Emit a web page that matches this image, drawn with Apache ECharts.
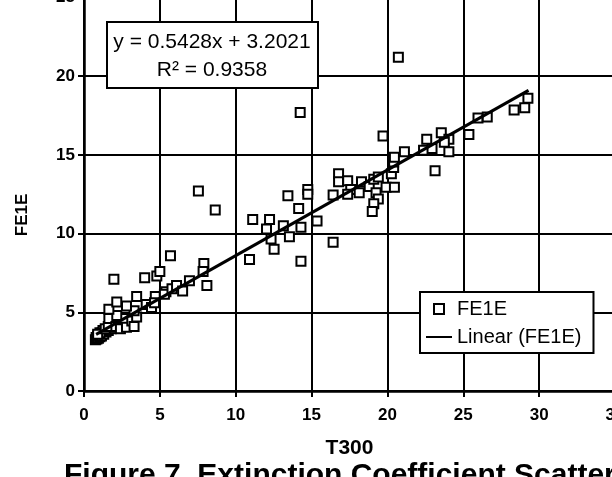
<!DOCTYPE html>
<html><head><meta charset="utf-8">
<script src="https://cdn.jsdelivr.net/npm/echarts@6/dist/echarts.min.js"></script>
<style>html,body{margin:0;padding:0;background:#fff}#c{width:612px;height:477px}</style>
</head><body><div id="c"></div>
<script>
// ---- data ----
const xTicks = [0, 5, 10, 15, 20, 25, 30, 35];
const yTicks = [0, 5, 10, 15, 20, 25];
const seriesName = 'FE1E';
const trendName = 'Linear (FE1E)';
const fe1eX = [
  0.75, 0.8, 0.85, 0.9, 0.95, 1.0, 1.05, 1.1, 1.15, 1.2, 1.3, 1.35, 1.45, 1.5, 1.6, 1.7, 1.8, 1.9, 2.0, 1.25, 1.05, 0.9, 1.4, 1.6,
  1.64, 2.1, 2.4, 2.6, 2.8, 3.15, 3.3, 3.47, 2.16, 3.3, 2.8, 1.64, 2.16, 3.47, 4.1, 4.45, 4.7, 4.65, 5.4, 5.3, 5.8, 6.1, 6.5, 6.95,
  4.8, 5.0, 4.0, 1.97, 5.7, 7.9, 7.85, 8.1, 7.54, 8.65,
  10.91, 11.12, 12.23, 12.03, 12.33, 12.53, 13.14, 13.44, 13.54, 14.15, 14.3, 15.36, 14.25, 14.3, 14.75, 14.75,
  16.42, 16.42, 16.78, 16.78, 17.38, 17.58, 17.38, 18.14, 18.29, 18.8, 19.1, 19.4, 19.25, 19.4, 19.1, 19.0,
  19.91, 20.46, 20.26, 20.41, 20.41, 20.46, 21.12, 19.71, 20.72, 22.38, 22.59, 22.94, 23.55, 24.05, 23.75, 24.05, 23.14,
  25.37, 25.97, 26.58, 28.35, 29.05, 29.26
];
const fe1eY = [
  3.25, 3.4, 3.3, 3.5, 3.35, 3.55, 3.45, 3.65, 3.5, 3.7, 3.6, 3.8, 3.75, 3.9, 3.85, 4.0, 3.95, 4.1, 4.05, 3.85, 3.7, 3.6, 3.95, 4.1,
  4.6, 4.1, 3.95, 4.6, 4.05, 4.45, 4.1, 4.7, 4.8, 5.1, 5.4, 5.2, 5.65, 6.0, 5.5, 5.3, 6.0, 5.6, 6.3, 6.15, 6.5, 6.7, 6.35, 7.0,
  7.3, 7.6, 7.2, 7.1, 8.6, 8.1, 7.6, 6.7, 12.7, 11.5,
  8.35, 10.9, 10.9, 10.3, 9.65, 9.0, 10.5, 12.4, 9.8, 11.6, 10.4, 10.8, 17.7, 8.25, 12.8, 12.5,
  9.45, 12.45, 13.8, 13.3, 13.35, 12.8, 12.5, 12.6, 13.3, 13.0, 13.45, 13.6, 12.6, 12.2, 11.9, 11.4,
  12.95, 12.95, 13.8, 14.2, 14.55, 14.85, 15.2, 16.2, 21.2, 15.3, 16.0, 15.4, 16.4, 16.0, 15.8, 15.2, 14.0,
  16.3, 17.35, 17.4, 17.85, 18.0, 18.6
];
const trendX = [0.8, 29.3];
const trendY = [3.6, 19.1];
const equationText = 'y = 0.5428x + 3.2021';
const r2Text = 'R\u00B2 = 0.9358';
const xTitle = 'T300';
const yTitle = 'FE1E';
const caption = 'Figure 7. Extinction Coefficient Scatter Plot';

// ---- chart ----
const FONT = '"Liberation Sans", Arial, Helvetica, sans-serif';
const chart = echarts.init(document.getElementById('c'), null, {renderer: 'canvas'});
const pts = fe1eX.map((x, i) => [x, fe1eY[i]]);
const trend = trendX.map((x, i) => [x, trendY[i]]);
chart.setOption({
  animation: false,
  backgroundColor: '#fff',
  grid: {left: 84, right: -3, top: -2.5, bottom: 86, containLabel: false, outerBoundsMode: 'none'},
  xAxis: {
    type: 'value', min: xTicks[0], max: xTicks[xTicks.length - 1], interval: xTicks[1] - xTicks[0],
    name: xTitle, nameLocation: 'middle', nameGap: 47,
    nameTextStyle: {fontFamily: FONT, fontWeight: 'bold', fontSize: 21, color: '#000'},
    axisLine: {lineStyle: {color: '#000', width: 2.5}},
    axisTick: {show: true, inside: false, length: 6, lineStyle: {color: '#000', width: 2}},
    axisLabel: {fontFamily: FONT, fontWeight: 'bold', fontSize: 17, color: '#000', margin: 16, hideOverlap: false},
    splitLine: {show: true, lineStyle: {color: '#000', width: 2}}
  },
  yAxis: {
    type: 'value', min: yTicks[0], max: yTicks[yTicks.length - 1], interval: yTicks[1] - yTicks[0],
    axisLine: {show: true, lineStyle: {color: '#000', width: 2.5}},
    axisTick: {show: true, inside: false, length: 6, lineStyle: {color: '#000', width: 2}},
    axisLabel: {fontFamily: FONT, fontWeight: 'bold', fontSize: 17, color: '#000', margin: 9},
    splitLine: {show: true, lineStyle: {color: '#000', width: 2}}
  },
  legend: {
    orient: 'vertical', left: 420, top: 292,
    backgroundColor: '#fff', borderColor: '#000', borderWidth: 2, borderRadius: 0,
    padding: [7, 12, 6, 5], itemGap: 8, itemWidth: 26, itemHeight: 10,
    textStyle: {fontFamily: FONT, fontSize: 20, color: '#000'},
    data: [
      {name: seriesName, icon: 'path://M0,0L10,0L10,10L0,10Z'},
      {name: trendName, itemStyle: {opacity: 0}}
    ]
  },
  series: [
    {
      name: seriesName, type: 'scatter', data: pts, symbol: 'rect', symbolSize: 9,
      itemStyle: {color: '#fff', borderColor: '#000', borderWidth: 2, opacity: 1},
      z: 3
    },
    {
      name: trendName, type: 'line', data: trend, symbol: 'none', showSymbol: false,
      lineStyle: {color: '#000', width: 3}, itemStyle: {color: '#000'}, z: 4
    }
  ],
  graphic: [
    {type: 'rect', z: 10, shape: {x: 107, y: 22, width: 211, height: 66},
     style: {fill: '#fff', stroke: '#000', lineWidth: 2}},
    {type: 'text', z: 11, x: 212, y: 42,
     style: {text: equationText, font: '21px ' + FONT, fill: '#000', align: 'center', verticalAlign: 'middle'}},
    {type: 'text', z: 11, x: 212, y: 70,
     style: {text: r2Text, font: '21px ' + FONT, fill: '#000', align: 'center', verticalAlign: 'middle'}},
    {type: 'text', z: 11, x: 22, y: 215, rotation: Math.PI / 2,
     style: {text: yTitle, font: 'bold 17px ' + FONT, fill: '#000', align: 'center', verticalAlign: 'middle'}},
    {type: 'text', z: 11, x: 64, y: 461,
     style: {text: caption, font: 'bold 30px ' + FONT, fill: '#000', align: 'left', verticalAlign: 'top'}}
  ]
});
</script></body></html>
